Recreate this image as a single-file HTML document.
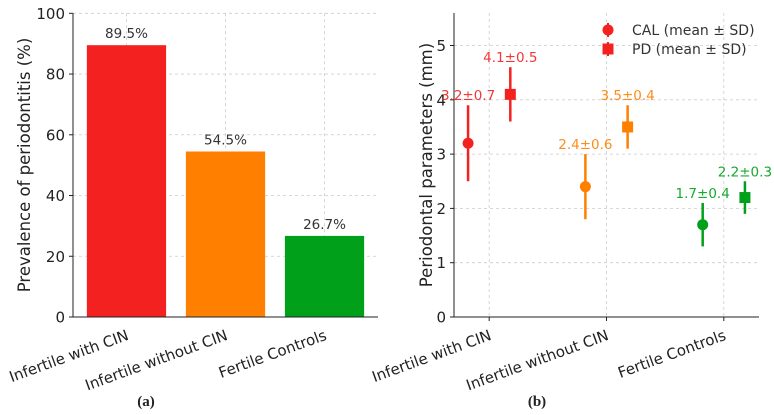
<!DOCTYPE html>
<html><head><meta charset="utf-8"><style>
body{margin:0;background:#fff;}
svg{display:block;font-family:"DejaVu Sans","Liberation Sans",sans-serif;}
</style></head><body>
<svg id="c" width="774" height="415"></svg>
<script>
const categories=["Infertile with CIN","Infertile without CIN","Fertile Controls"];
const prevalence=[89.5,54.5,26.7];
const prevLabels=["89.5%","54.5%","26.7%"];
const calMean=[3.2,2.4,1.7];
const calSd=[0.7,0.6,0.4];
const pdMean=[4.1,3.5,2.2];
const pdSd=[0.5,0.4,0.3];
const colors=["#f42121","#ff8000","#00a01a"];
const leftTicks=[0,20,40,60,80,100];
const rightTicks=[0,1,2,3,4,5];

const svg=document.getElementById('c');
const NS="http://www.w3.org/2000/svg";
function mk(tag,attrs,parent,text){const e=document.createElementNS(NS,tag);for(const k in attrs)e.setAttribute(k,attrs[k]);if(text!==undefined)e.textContent=text;(parent||svg).appendChild(e);return e;}

const L={x0:73,x1:378,y0:317,y1:13.3};
const lx=i=>L.x0+(i+0.54)/3.08*(L.x1-L.x0);
const ly=v=>L.y0-v/100*(L.y0-L.y1);
const R={x0:454,x1:759,y0:317};
const rx=v=>R.x0+(v+0.3)/2.6*(R.x1-R.x0);
const ry=v=>R.y0-v*54.3;

const gL=mk('g',{});
leftTicks.forEach(t=>{if(t>0){const g=mk('line',{x1:L.x0,x2:L.x1,y1:ly(t),y2:ly(t),stroke:'#ccc','stroke-dasharray':'3,3','stroke-width':0.8},gL);}
 const tl=mk('text',{x:L.x0-8,y:ly(t)+5.5,'text-anchor':'end','font-size':15,fill:'#222'},gL,String(t));
 mk('line',{x1:L.x0-4,x2:L.x0,y1:ly(t),y2:ly(t),stroke:'#222'},gL);});
categories.forEach((c,i)=>{const g=mk('line',{x1:lx(i),x2:lx(i),y1:L.y1,y2:L.y0,stroke:'#ccc','stroke-dasharray':'3,3','stroke-width':0.8},gL);});
const bw=0.8/3.08*(L.x1-L.x0);
prevalence.forEach((v,i)=>{
 const b=mk('rect',{x:lx(i)-bw/2,y:ly(v),width:bw,height:ly(0)-ly(v),fill:colors[i]},gL);
 
 const t=mk('text',{x:lx(i),y:ly(v)-7,'text-anchor':'middle','font-size':13.5,fill:'#333'},gL,prevLabels[i]);
 
 const xl=mk('text',{transform:`translate(${lx(i)-1},${L.y0+11}) rotate(-20)`,'text-anchor':'end','font-size':15,fill:'#222',dy:'0.8em'},gL,categories[i]);
 
});
mk('line',{x1:L.x0,x2:L.x0,y1:L.y1,y2:L.y0,stroke:'#222','stroke-width':1},gL);
mk('line',{x1:L.x0,x2:L.x1,y1:L.y0,y2:L.y0,stroke:'#222','stroke-width':1},gL);
const yt=mk('text',{transform:`translate(30,165) rotate(-90)`,'text-anchor':'middle','font-size':16.5,fill:'#222'},gL,'Prevalence of periodontitis (%)');

const ca=mk('text',{x:146,y:406,'text-anchor':'middle','font-size':15,'font-family':'Liberation Serif,serif','font-weight':'bold',fill:'#222'},gL,'(a)');


const gR=mk('g',{});
rightTicks.forEach(t=>{if(t>0){const g=mk('line',{x1:R.x0,x2:R.x1,y1:ry(t),y2:ry(t),stroke:'#ccc','stroke-dasharray':'3,3','stroke-width':0.8},gR);}
 const tl=mk('text',{x:R.x0-8,y:ry(t)+5.5,'text-anchor':'end','font-size':15,fill:'#222'},gR,String(t));
 mk('line',{x1:R.x0-4,x2:R.x0,y1:ry(t),y2:ry(t),stroke:'#222'},gR);});
categories.forEach((c,i)=>{
 const g=mk('line',{x1:rx(i),x2:rx(i),y1:13,y2:R.y0,stroke:'#ccc','stroke-dasharray':'3,3','stroke-width':0.8},gR);
 mk('line',{x1:rx(i),x2:rx(i),y1:R.y0,y2:R.y0+4,stroke:'#222'},gR);
 const xl=mk('text',{transform:`translate(${rx(i)-1},${R.y0+11}) rotate(-20)`,'text-anchor':'end','font-size':15,fill:'#222',dy:'0.8em'},gR,c);
 
});
function series(means,sds,off,shape,name){
 means.forEach((m,i)=>{
  const x=rx(i+off),c=colors[i];
  const e=mk('line',{x1:x,x2:x,y1:ry(m-sds[i]),y2:ry(m+sds[i]),stroke:c,'stroke-width':2.5},gR);
  
  let p;
  if(shape==='circle')p=mk('circle',{cx:x,cy:ry(m),r:5.5,fill:c},gR);
  else p=mk('rect',{x:x-5.5,y:ry(m)-5.5,width:11,height:11,fill:c},gR);
  
  const t=mk('text',{x:x,y:ry(m+sds[i])-5,'text-anchor':'middle','font-size':13.5,fill:c,opacity:0.9},gR,m.toFixed(1)+'±'+sds[i].toFixed(1));
  
 });
}
series(calMean,calSd,-0.18,'circle','cal');
series(pdMean,pdSd,0.18,'square','pd');
mk('line',{x1:R.x0,x2:R.x0,y1:13,y2:R.y0,stroke:'#222'},gR);
mk('line',{x1:R.x0,x2:R.x1,y1:R.y0,y2:R.y0,stroke:'#222'},gR);
const yt2=mk('text',{transform:`translate(432,165) rotate(-90)`,'text-anchor':'middle','font-size':16.5,fill:'#222'},gR,'Periodontal parameters (mm)');

const lg=mk('g',{},gR);
mk('line',{x1:608,x2:608,y1:23,y2:37,stroke:'#f42121','stroke-width':2},lg);
mk('circle',{cx:608,cy:30,r:5.5,fill:'#f42121'},lg);
const l1=mk('text',{x:632,y:35,'font-size':14,fill:'#333'},lg,'CAL (mean ± SD)');
mk('line',{x1:608,x2:608,y1:42,y2:56,stroke:'#f42121','stroke-width':2},lg);
mk('rect',{x:602.5,y:43.5,width:11,height:11,fill:'#f42121'},lg);
const l2=mk('text',{x:632,y:54,'font-size':14,fill:'#333'},lg,'PD (mean ± SD)');
const cb=mk('text',{x:537,y:406,'text-anchor':'middle','font-size':15,'font-family':'Liberation Serif,serif','font-weight':'bold',fill:'#222'},gR,'(b)');

</script>
</body></html>
